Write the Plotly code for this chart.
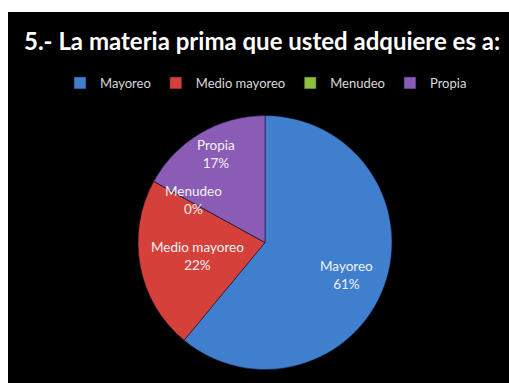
import plotly.graph_objects as go

# Survey answers: where the raw material is bought
categories = ["Mayoreo", "Medio mayoreo", "Menudeo", "Propia"]
percentages = [61, 22, 0, 17]

slice_colors = ["#3f7fce", "#d6403a", "#8fbf3a", "#8a5cb6"]

W, H = 509, 383


def px(x):
    return x / W


def py(y):
    return 1 - y / H


# pie centre and radius in pixels
cx, cy, r = 265, 242.5, 127

fig = go.Figure(
    go.Pie(
        labels=categories,
        values=percentages,
        sort=False,
        direction="clockwise",
        rotation=0,
        marker=dict(colors=slice_colors, line=dict(color="rgba(20,20,40,0.55)", width=1)),
        textinfo="none",
        hoverinfo="label+percent",
        domain=dict(x=[px(cx - r), px(cx + r)], y=[py(cy + r), py(cy - r)]),
        showlegend=True,
    )
)

# slice labels (name + share), placed inside the slices
label_pos = [(346, 275), (197, 256), (193, 200), (216, 154)]
for name, pct, (lx, ly) in zip(categories, percentages, label_pos):
    fig.add_annotation(
        x=px(lx), y=py(ly), xref="paper", yref="paper",
        text=f"{name}<br>{pct}%", showarrow=False,
        font=dict(family="Lato", size=13.5, color="#f2f2f2"),
        xanchor="center", yanchor="middle", align="center",
    )

fig.add_annotation(
    x=px(262), y=py(41), xref="paper", yref="paper",
    text="<b>5.- La materia prima que usted adquiere es a:</b>",
    showarrow=False, xanchor="center", yanchor="middle",
    font=dict(family="Lato", size=24, color="#ffffff"),
)

# black slide area with a white margin at the top and left
fig.add_shape(
    type="rect", xref="paper", yref="paper",
    x0=px(8), x1=1, y0=0, y1=py(12),
    fillcolor="#000000", line=dict(width=0), layer="below",
)

fig.update_layout(
    width=W, height=H,
    margin=dict(l=0, r=0, t=0, b=0),
    paper_bgcolor="#ffffff",
    plot_bgcolor="#000000",
    legend=dict(
        orientation="h", x=px(266), xanchor="center", y=py(83), yanchor="middle",
        font=dict(family="Lato", size=13, color="#d9d9d9"),
        itemwidth=30, tracegroupgap=0, bgcolor="rgba(0,0,0,0)",
    ),
)

fig.write_html("out.html")
